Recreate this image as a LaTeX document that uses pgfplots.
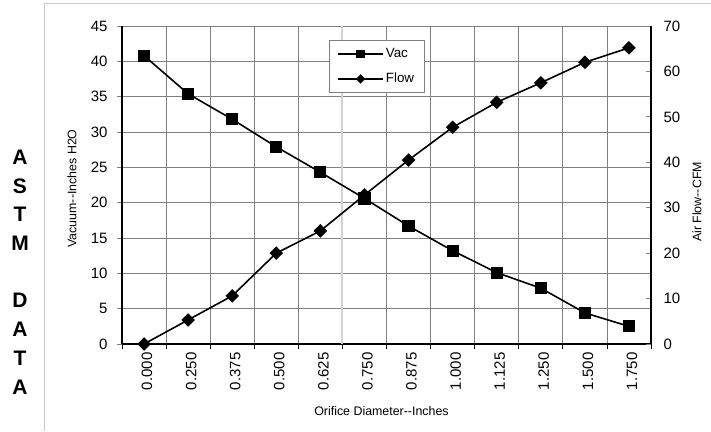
\documentclass[border=0pt]{standalone}
\usepackage{pgfplots}
\pgfplotsset{compat=1.18}
\usepackage{fontspec}
\setmainfont{Liberation Sans}

\definecolor{gridgray}{RGB}{128,128,128}
\definecolor{framegray}{RGB}{200,200,200}
\definecolor{sepgray}{RGB}{210,210,210}

\begin{document}
\begin{tikzpicture}
\useasboundingbox (-122pt,-87pt) rectangle (589pt,344pt);
% outer frame
\draw[framegray, line width=1pt] (-77pt,-87pt) -- (-77pt,340pt) -- (589pt,340pt);
% ASTM DATA
\node[font=\fontsize{21}{28.7}\selectfont\bfseries, align=center, inner sep=0pt]
  at (-102pt,72pt) {A\\S\\T\\M\\~\\D\\A\\T\\A};

\begin{axis}[
  at={(0pt,0pt)}, anchor=south west,
  scale only axis, width=529pt, height=318pt,
  xmin=-0.5, xmax=11.5,
  ymin=0, ymax=45,
  axis x line*=bottom, axis y line*=left,
  axis line style={-, black, line width=1.2pt},
  xtick={0,...,11},
  xticklabels={0.000,0.250,0.375,0.500,0.625,0.750,0.875,1.000,1.125,1.250,1.500,1.750},
  minor xtick={-0.5,0.5,...,11.5},
  major x tick style={draw=none},
  minor x tick style={black, line width=0.8pt},
  xminorgrids=true,
  ytick={0,5,...,45},
  ymajorgrids=true,
  grid style={gridgray, line width=0.8pt},
  minor grid style={gridgray, line width=0.8pt},
  y tick style={gridgray, line width=0.8pt},
  tick align=outside,
  major tick length=5pt, minor tick length=5pt,
  /pgf/number format/assume math mode=true,
  ticklabel style={font=\fontsize{15}{17}\selectfont},
  x tick label style={rotate=90, anchor=east, yshift=-3pt},
  y tick label style={xshift=-6pt},
  xlabel={Orifice Diameter{-}{-}Inches},
  ylabel={Vacuum{-}{-}Inches H2O},
  every axis x label/.style={at={(rel axis cs:0.4905,-0.211)}, anchor=center,
    font=\fontsize{12.4}{14}\selectfont},
  every axis y label/.style={at={(rel axis cs:-0.0945,0.489)}, rotate=90, anchor=center,
    font=\fontsize{12.4}{14}\selectfont},
  legend style={at={(rel axis cs:0.391,0.956)}, anchor=north west,
    draw=gridgray, line width=0.8pt, font=\fontsize{13.4}{15}\selectfont,
    inner xsep=8pt, inner ysep=5pt, row sep=8pt,
    nodes={text height=10pt, text depth=3pt}},
  legend cell align=left,
  legend image code/.code={\draw[#1] (0pt,0pt) -- (45pt,0pt);
    \draw[#1, solid] plot[only marks] coordinates {(22.5pt,0pt)};},
]
\draw[sepgray, line width=2pt] (axis cs:4.5,0) -- (axis cs:4.5,45);

\addlegendimage{black, line width=1.6pt, mark=square*, mark size=3.5pt}
\addlegendentry{Vac}
\addlegendimage{black, line width=1.6pt, mark=square*, mark options={rotate=45}, mark size=2.5pt}
\addlegendentry{Flow}

\addplot[black, line width=1.6pt, mark=square*, mark size=5.3pt, forget plot]
  coordinates {(0,40.8)(1,35.4)(2,31.8)(3,27.9)(4,24.3)(5,20.6)
               (6,16.7)(7,13.2)(8,10.1)(9,7.9)(10,4.4)(11,2.5)};
\end{axis}

\begin{axis}[
  at={(0pt,0pt)}, anchor=south west,
  scale only axis, width=529pt, height=318pt,
  xmin=-0.5, xmax=11.5,
  ymin=0, ymax=70,
  axis x line=none,
  axis y line*=right,
  axis line style={-, black, line width=1.2pt},
  ytick={0,10,...,70},
  y tick style={gridgray, line width=0.8pt},
  tick align=inside,
  major tick length=5pt,
  /pgf/number format/assume math mode=true,
  ticklabel style={font=\fontsize{15}{17}\selectfont},
  y tick label style={xshift=9pt},
  ylabel={Air Flow{-}{-}CFM},
  every axis y label/.style={at={(rel axis cs:1.087,0.4465)}, rotate=90, anchor=center,
    font=\fontsize{12.4}{14}\selectfont},
]
\addplot[black, line width=1.6pt, mark=square*, mark options={rotate=45}, mark size=4pt]
  coordinates {(0,0)(1,5.3)(2,10.6)(3,20.0)(4,24.9)(5,32.8)
               (6,40.5)(7,47.7)(8,53.2)(9,57.5)(10,62.0)(11,65.2)};
\end{axis}
\end{tikzpicture}
\end{document}
